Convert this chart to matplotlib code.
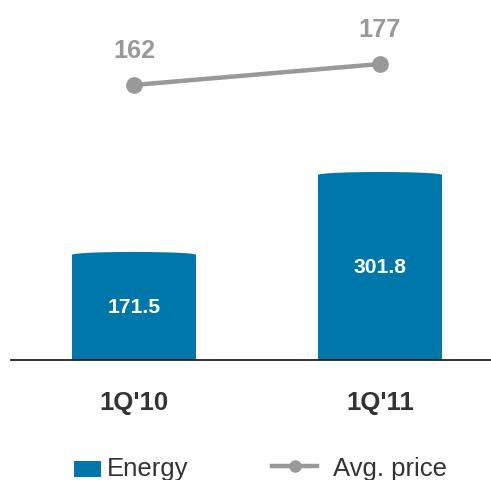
import matplotlib.pyplot as plt
from matplotlib.patches import Ellipse, Rectangle
from matplotlib.lines import Line2D

plt.rcParams['font.family'] = ['Liberation Sans', 'DejaVu Sans']

quarters = ["1Q'10", "1Q'11"]
energy = [171.5, 301.8]
avg_price = [162, 177]
series_names = ["Energy", "Avg. price"]

bar_color = "#0077aa"
line_color = "#999999"
text_dark = "#333333"

W, H = 491, 480
fig = plt.figure(figsize=(W / 100, H / 100), dpi=100)
ax = fig.add_axes([11 / W, 120 / H, 480 / W, 360 / H])

x = list(range(len(quarters)))
width = 0.504
ax.bar(x, energy, width=width, color=bar_color, zorder=2)
# rounded cap on top of each bar
for xi, v in zip(x, energy):
    ax.add_patch(Ellipse((xi, v), width, 9.5, facecolor=bar_color,
                         edgecolor="none", zorder=2))
    ax.text(xi, v * 0.5, f"{v:.1f}", ha="center", va="center",
            color="white", fontsize=15.2, fontweight="bold", zorder=3)

ax.set_xlim(-0.5, 1.451)
ax.set_ylim(0, 587)
ax.set_xticks(x)
ax.set_xticklabels(quarters, fontsize=18.5, fontweight="bold", color=text_dark)
ax.tick_params(axis="x", length=0, pad=22)
ax.set_yticks([])
for s in ["top", "right", "left"]:
    ax.spines[s].set_visible(False)
ax.spines["bottom"].set_color("#222222")
ax.spines["bottom"].set_linewidth(1.3)

ax2 = ax.twinx()
ax2.plot(x, avg_price, color=line_color, linewidth=3.2, marker="o",
         markersize=11, zorder=4)
for xi, p in zip(x, avg_price):
    ax2.annotate(str(p), (xi, p), xytext=(0, 16), textcoords="offset points",
                 ha="center", va="bottom", fontsize=18.2, fontweight="bold",
                 color=line_color)
ax2.set_ylim(-34.4, 222.7)
ax2.set_yticks([])
for s in ["top", "right", "left", "bottom"]:
    ax2.spines[s].set_visible(False)

# legend, drawn by hand (runs off the bottom edge like the original)
fig.patches.append(Rectangle((74 / W, 1 - 477 / H), 27 / W, 16 / H,
                             transform=fig.transFigure, facecolor=bar_color,
                             edgecolor="none"))
fig.text(107 / W, 1 - 476 / H, series_names[0], fontsize=18.5,
         color=text_dark, va="baseline", ha="left")
fig.lines.append(Line2D([272 / W, 317 / W], [1 - 466 / H, 1 - 466 / H],
                        transform=fig.transFigure, color=line_color,
                        linewidth=3.2))
fig.lines.append(Line2D([294.5 / W], [1 - 466 / H], transform=fig.transFigure,
                        color=line_color, marker="o", markersize=8))
fig.text(333 / W, 1 - 476 / H, series_names[1], fontsize=18.5,
         color=text_dark, va="baseline", ha="left")

fig.savefig("out.png", dpi=100)
